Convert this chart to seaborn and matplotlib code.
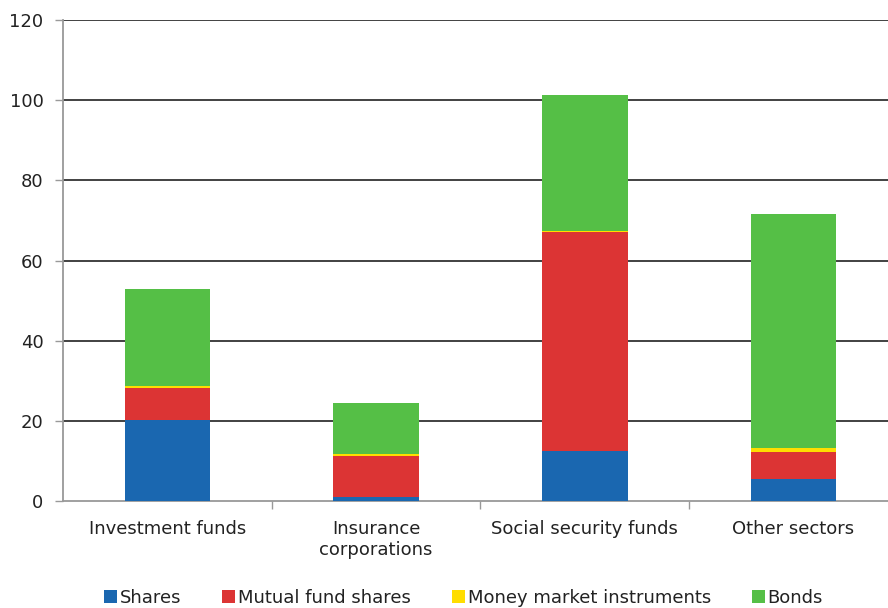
import matplotlib
matplotlib.use("Agg")
import matplotlib.pyplot as plt
import seaborn as sns
import pandas as pd
import numpy as np
from matplotlib.patches import Patch

categories = ["Investment funds", "Insurance\ncorporations", "Social security funds", "Other sectors"]
series_names = ["Shares", "Mutual fund shares", "Money market instruments", "Bonds"]
shares = [20.2, 0.9, 12.5, 5.4]
mutual_fund_shares = [8.1, 10.3, 54.7, 6.7]
money_market = [0.4, 0.6, 0.1, 1.2]
bonds = [24.2, 12.7, 34.0, 58.3]
colors = ["#1a67b0", "#dc3434", "#ffdd00", "#55bf46"]
yticks = [0, 20, 40, 60, 80, 100, 120]

sns.set_theme(style="white")
plt.rcParams['font.family'] = ['DejaVu Sans']

fig = plt.figure(figsize=(8.88, 6.08), dpi=100)
ax = fig.add_axes([63/888, 107/608, 1 - 63/888, (501-20)/608])

series = [shares, mutual_fund_shares, money_market, bonds]
cum = np.cumsum(np.array(series), axis=0)
# draw from top-most cumulative down so lower segments overlay
for i in range(len(series) - 1, -1, -1):
    df = pd.DataFrame({"cat": categories, "val": cum[i]})
    sns.barplot(data=df, x="cat", y="val", color=colors[i], width=0.41,
                saturation=1, ax=ax, edgecolor="none", linewidth=0, zorder=3)

ax.set_xlim(-0.5, 3.453)
ax.set_ylim(0, 120)
ax.set_yticks(yticks)
ax.set_yticklabels([str(t) for t in yticks], fontsize=13, color="#222222")
ax.set_xlabel("")
ax.set_ylabel("")
ax.tick_params(axis="x", which="major", length=0, pad=14, labelsize=13, labelcolor="#222222")
for lbl in ax.get_xticklabels():
    lbl.set_linespacing(1.15)
ax.tick_params(axis="y", which="major", length=6, width=1, color="#999999", direction="out", pad=8, left=True)
ax.set_xticks([0.5, 1.5, 2.5], minor=True)
ax.tick_params(axis="x", which="minor", length=6, width=1, color="#999999", direction="out", bottom=True)
for y in yticks[1:]:
    ax.axhline(y, color="#333333", linewidth=1.3, zorder=1)
for s in ["top", "right"]:
    ax.spines[s].set_visible(False)
for s in ["left", "bottom"]:
    ax.spines[s].set_color("#999999")
    ax.spines[s].set_linewidth(1.3)

handles = [Patch(facecolor=c, edgecolor="none") for c in colors]
leg = fig.legend(handles, series_names, loc="lower center", ncol=4, frameon=False,
           bbox_to_anchor=(0.522, -0.025), fontsize=13, handlelength=0.7, handleheight=0.7,
           handletextpad=0.15, columnspacing=2.3)
for t in leg.get_texts():
    t.set_color("#222222")

fig.savefig("out.png", dpi=100)
